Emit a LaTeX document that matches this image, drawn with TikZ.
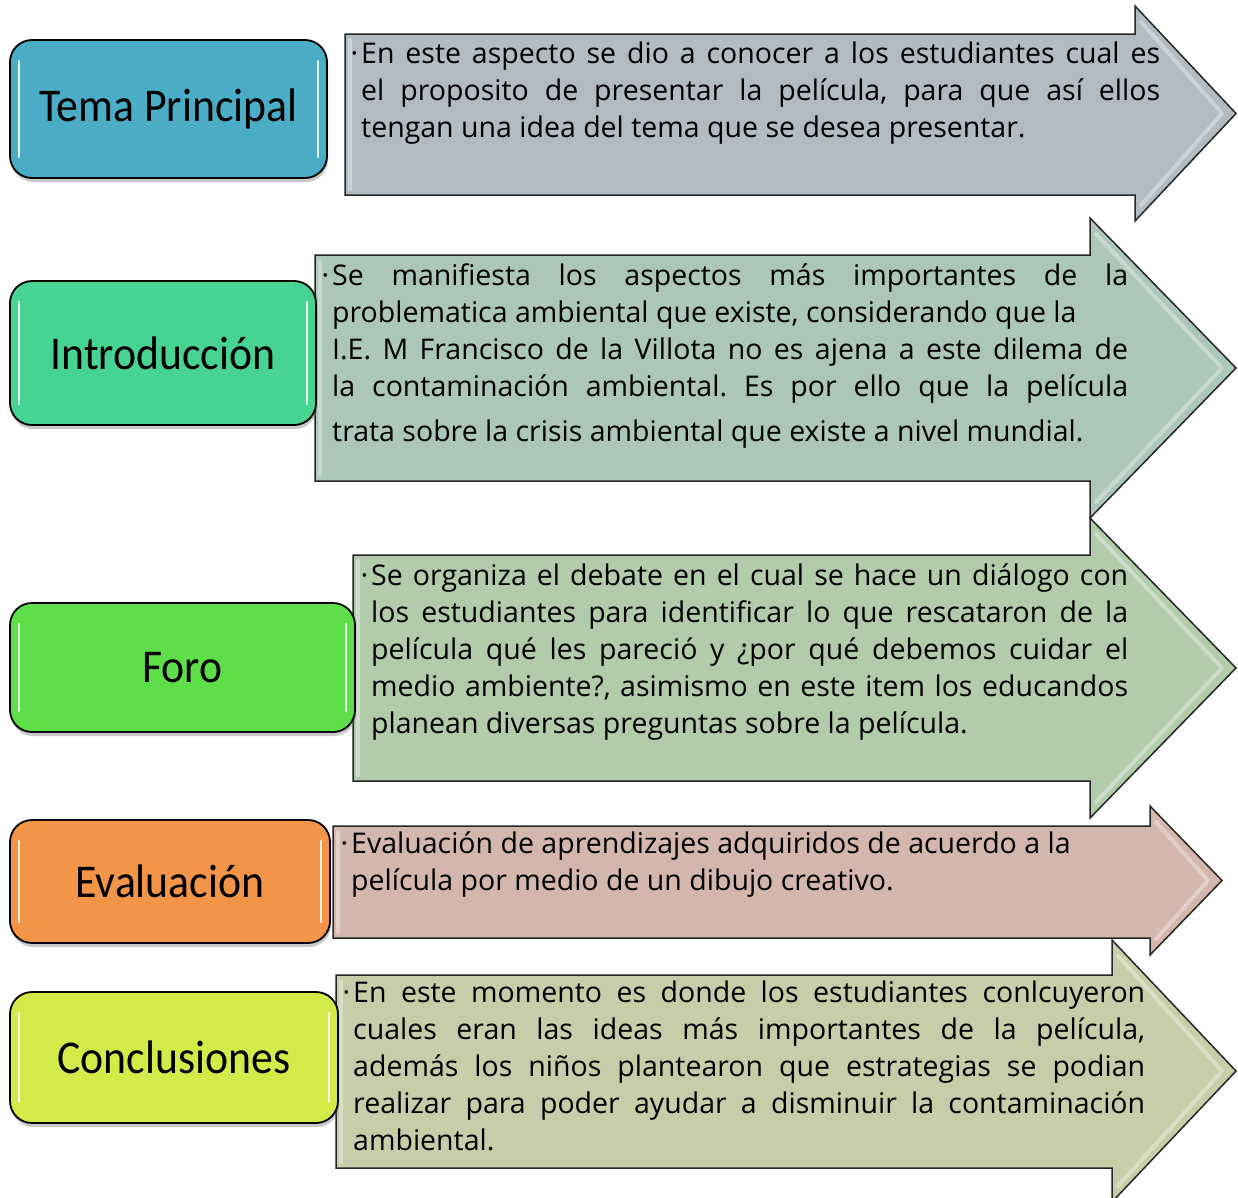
\documentclass[tikz,border=0pt]{standalone}
\usepackage{fontspec}
\setmainfont{Open Sans}
\newfontfamily\labelfont[FakeStretch=0.93]{Carlito}
\usetikzlibrary{shadows}
\definecolor{cA}{HTML}{4BACC6}
\definecolor{cB}{HTML}{47D391}
\definecolor{cC}{HTML}{5EDF49}
\definecolor{cD}{HTML}{F29548}
\definecolor{cE}{HTML}{D3EA49}
\definecolor{aA}{HTML}{B0BCC2}
\definecolor{aB}{HTML}{ACC6B9}
\definecolor{aC}{HTML}{B2CBAB}
\definecolor{aD}{HTML}{D3B7AC}
\definecolor{aE}{HTML}{C9CCA9}
\tikzset{
  labelbox/.style={draw=black, line width=1.8pt, rounded corners=22pt,
    drop shadow={shadow xshift=1pt,shadow yshift=-4pt,opacity=.35,fill=black!60},
    inner sep=0pt, font=\labelfont\fontsize{47}{52}\selectfont},
  arrowbody/.style={draw=black!85, line width=1.5pt, line join=miter},
  bevel/.style={white, opacity=.35, line width=4pt, line join=round, line cap=round},
  bodytext/.style={anchor=base west, inner sep=0pt, font=\fontsize{28.5}{37}\selectfont\frenchspacing},
  gloss/.style={white, line width=2.5pt, line cap=round, opacity=.85},
}
\newcommand\jl[1]{\makebox[\linewidth][s]{#1}\\}
\newcommand\bul{\leavevmode\llap{·\hspace{3pt}}}
% name, left, top, bottom, headx, headtop, headbottom, tipx, color
\newcommand\myarrow[9]{%
  \pgfmathsetmacro\my{(#6+#7)/2}%
  \draw[arrowbody, fill=#9] (#2,#3) -- (#5,#3) -- (#5,#6) -- (#8,\my) -- (#5,#7) -- (#5,#4) -- (#2,#4) -- cycle;
  \draw[bevel] (#2+5,#3+6) -- (#2+5,#4-6);
  \draw[bevel] (#5+6,#6+16) -- (#8-14,\my) -- (#5+6,#7-16);
  \coordinate (#1) at (#8,\my);
}
\newcommand\gl[1]{%
  \draw[gloss] ([xshift=10pt,yshift=-22pt]#1.north west) -- ([xshift=10pt,yshift=22pt]#1.south west);
  \draw[gloss] ([xshift=-10pt,yshift=-22pt]#1.north east) -- ([xshift=-10pt,yshift=22pt]#1.south east);
}
\begin{document}
\begin{tikzpicture}[x=1pt,y=-1pt]
\useasboundingbox[fill=white] (0,0) rectangle (1238,1197);
% arrows
\myarrow{tipA}{345}{34}{195}{1135}{6}{221}{1236}{aA}
\myarrow{tipB}{315}{255}{481}{1090}{218}{518}{1236}{aB}
\myarrow{tipC}{353}{555}{781}{1090}{518}{818}{1236}{aC}
\myarrow{tipD}{333}{826}{938}{1150}{806}{955}{1222}{aD}
\myarrow{tipE}{336}{975}{1168}{1112}{940}{1202}{1236}{aE}
% texts
\node[bodytext] (tA) at (361,63) {\parbox[t]{799pt}{%
\jl{\bul En este aspecto se dio a conocer a los estudiantes cual es}
\jl{el proposito de presentar la película, para que así ellos}
tengan una idea del tema que se desea presentar.}};
\node[bodytext] (tB) at (332,285) {\parbox[t]{796pt}{%
\jl{\bul Se manifiesta los aspectos más importantes de la}
problematica ambiental que existe, considerando que la\\
\jl{I.E. M Francisco de la Villota no es ajena a este dilema de}
\makebox[\linewidth][s]{la contaminación ambiental. Es por ello que la película}\\[8pt]
trata sobre la crisis ambiental que existe a nivel mundial.}};
\node[bodytext] (tC) at (371,585) {\parbox[t]{757pt}{%
\jl{\bul Se organiza el debate en el cual se hace un diálogo con}
\jl{los estudiantes para identificar lo que rescataron de la}
\jl{película qué les pareció y ¿por qué debemos cuidar el}
\jl{medio ambiente?, asimismo en este item los educandos}
planean diversas preguntas sobre la película.}};
\node[bodytext] (tD) at (351,853) {\parbox[t]{780pt}{%
\bul Evaluación de aprendizajes adquiridos de acuerdo a la\\
película por medio de un dibujo creativo.}};
\node[bodytext] (tE) at (353,1002) {\parbox[t]{792pt}{%
\jl{\bul En este momento es donde los estudiantes conlcuyeron}
\jl{cuales eran las ideas más importantes de la película,}
\jl{además los niños plantearon que estrategias se podian}
\jl{realizar para poder ayudar a disminuir la contaminación}
ambiental.}};
% label boxes
\node[labelbox, fill=cA, minimum width=317pt, minimum height=138pt] (bA) at (168.5,109) {Tema Principal};
\gl{bA}
\node[labelbox, fill=cB, minimum width=306pt, minimum height=144pt] (bB) at (163,353) {Introducción};
\gl{bB}
\node[labelbox, fill=cC, minimum width=345pt, minimum height=129pt] (bC) at (182.5,667.5) {Foro};
\gl{bC}
\node[labelbox, fill=cD, minimum width=320pt, minimum height=123pt] (bD) at (170,881.5) {Evaluación};
\gl{bD}
\node[labelbox, fill=cE, minimum width=328pt, minimum height=131pt] (bE) at (174,1057.5) {Conclusiones};
\gl{bE}
\end{tikzpicture}
\end{document}
